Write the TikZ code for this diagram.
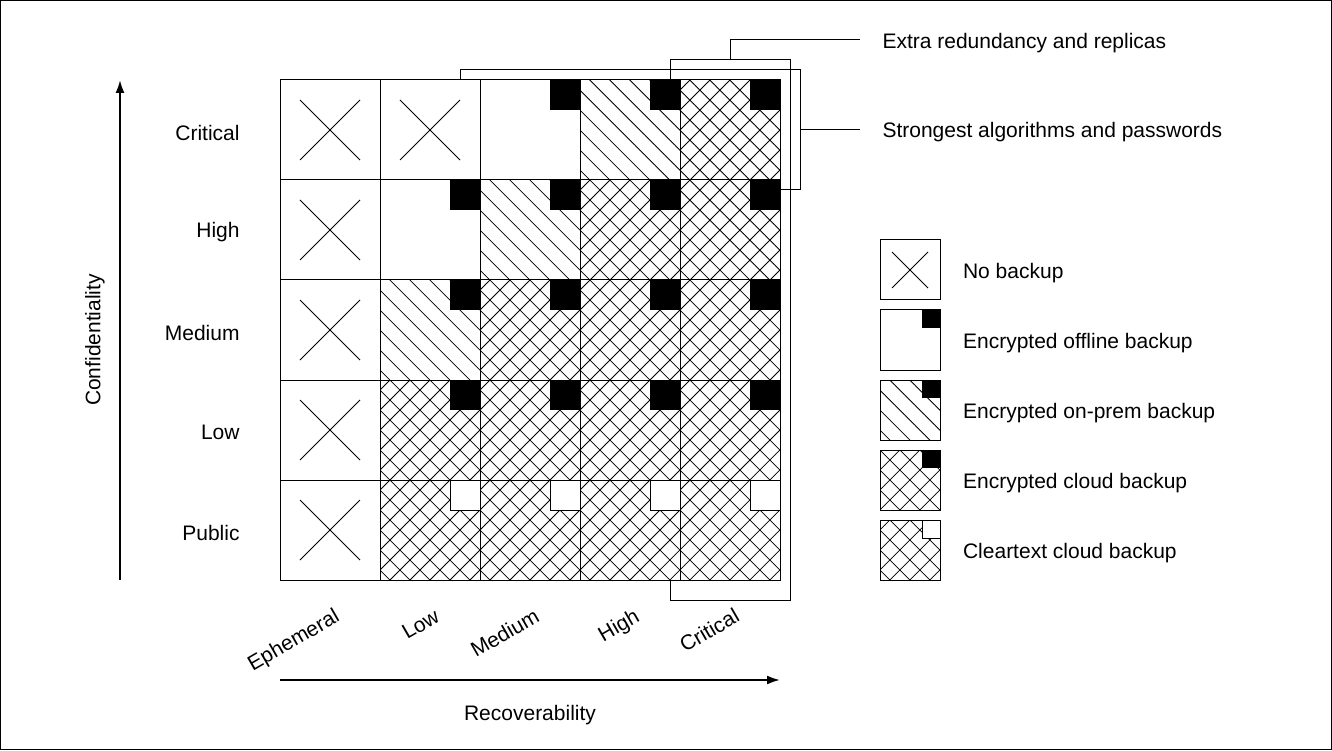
\documentclass[tikz,border=0pt]{standalone}
\usepackage{fontspec}
\setmainfont{Liberation Sans}
\usetikzlibrary{arrows.meta,positioning,calc,patterns.meta}
\newcommand{\ppbb}{path picture bounding box}

\begin{document}
\begin{tikzpicture}[
  x=50pt, y=50pt,
  font=\fontsize{10.5}{12.6}\selectfont,
  line width=0.5pt,
  cell/.style={rectangle, draw, inner sep=0pt, minimum size=50pt, preaction={fill=white}},
  legendbox/.style={cell, minimum size=30pt},
  nobackup/.style={path picture={
    \draw ($(\ppbb.south west)!.2!(\ppbb.north east)$) -- ($(\ppbb.south west)!.8!(\ppbb.north east)$);
    \draw ($(\ppbb.north west)!.2!(\ppbb.south east)$) -- ($(\ppbb.north west)!.8!(\ppbb.south east)$);}},
  offline/.style={path picture={
    \fill[black] (\ppbb.north east) rectangle ($(\ppbb.south west)!.7!(\ppbb.north east)$);}},
  onprem/.style={offline, pattern={Lines[angle=-45,distance=7.07pt,line width=0.4pt]}},
  cloud/.style={offline, pattern={Hatch[angle=45,distance=7.07pt,line width=0.4pt]}},
  cleartext/.style={pattern={Hatch[angle=45,distance=7.07pt,line width=0.4pt]}, path picture={
    \filldraw[fill=white] (\ppbb.north east) rectangle ($(\ppbb.south west)!.7!(\ppbb.north east)$);}},
  axis/.style={line width=1pt, -{Latex[length=6.5pt,width=4.5pt]}},
  frame/.style={line width=0.5pt}
]
  \useasboundingbox (-2.8,-1.7) rectangle (10.52,5.8);
  \draw[frame] (-2.795,-1.695) rectangle (10.515,5.795);

  % brackets behind the grid
  \draw (1.8,5.1) rectangle (5.2,3.9);
  \draw (3.9,5.2) rectangle (5.1,-0.2);

  % the grid, row 4 is Critical
  \foreach \r/\kinds in {
      4/{nobackup,nobackup,offline,onprem,cloud},
      3/{nobackup,offline,onprem,cloud,cloud},
      2/{nobackup,onprem,cloud,cloud,cloud},
      1/{nobackup,cloud,cloud,cloud,cloud},
      0/{nobackup,cleartext,cleartext,cleartext,cleartext}}
    \foreach \k [count=\c from 0] in \kinds
      \node[cell,\k] (c-\r-\c) at (\c+0.5,\r+0.5) {};

  % axis labels
  \foreach \lab [count=\r from 0] in {Public,Low,Medium,High,Critical}
    \node[anchor=east] (row-\r) at (-0.333,\r+0.475) {\lab};
  \foreach \lab [count=\c from 0] in {Ephemeral,Low,Medium,High,Critical}
    \node[rotate=30, anchor=base east] (col-\c) at (\c+0.67,-0.37) {\lab};

  \coordinate (ytail) at (-1.6,0);
  \coordinate (yhead) at (-1.6,5);
  \draw[axis] (ytail) -- (yhead);
  \node[rotate=90] (conf) at (-1.85,2.4) {Confidentiality};

  \coordinate (xtail) at (0,-1);
  \coordinate (xhead) at (5,-1);
  \draw[axis] (xtail) -- (xhead);
  \node (recov) at (2.5,-1.35) {Recoverability};

  % bracket labels
  \coordinate (extratop) at (4.5,5.2);
  \coordinate (extraend) at (5.8,5.4);
  \coordinate (strongside) at (5.2,4.5);
  \coordinate (strongend) at (5.8,4.5);
  \node[right=0pt of extraend, inner xsep=11pt, yshift=-1.5pt] (extra) {Extra redundancy and replicas};
  \node[right=0pt of strongend, inner xsep=11pt, yshift=-1pt] (strong) {Strongest algorithms and passwords};
  \draw (extratop) |- (extraend);
  \draw (strongside) -- (strongend);

  % legend
  \foreach \k/\lab [count=\i from 0] in {nobackup/No backup,offline/Encrypted offline backup,onprem/Encrypted on-prem backup,cloud/Encrypted cloud backup,cleartext/Cleartext cloud backup} {
    \node[legendbox,\k] (key-\i) at (6.3,3.1-0.7*\i) {};
    \node[right=7.7pt of key-\i, yshift=-1.5pt] (keylab-\i) {\lab};
  }
\end{tikzpicture}
\end{document}
